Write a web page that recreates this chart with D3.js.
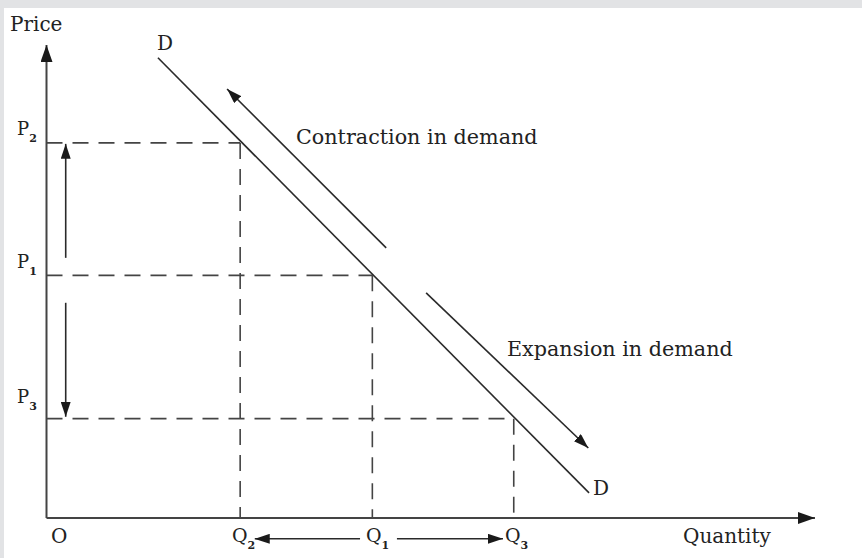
<!DOCTYPE html>
<html>
<head>
<meta charset="utf-8">
<script src="https://cdn.jsdelivr.net/npm/d3@7"></script>
<style>
	html, body { margin: 0; padding: 0; background: #e2e3e5; }
	#chart { position: absolute; left: 4px; top: 8px; background: #ffffff; }
	text { font-family: 'DejaVu Serif', 'Liberation Serif', serif; fill: #222; }
</style>
</head>
<body>
<svg id="chart" width="858" height="550"></svg>
<script>
'use strict'

// price and quantity levels (chart units, 0..100 on each axis)
var priceLabels = ['2', '1', '3'];
var priceValues = [79.3, 51.3, 21.0];
var quantityLabels = ['2', '1', '3'];
var quantityValues = [25.2, 42.4, 60.8];

// demand curve D-D
var demandQ = [14.5, 70.6];
var demandP = [97.3, 5.3];

// movement arrows along the curve [from, to]
var contractionQ = [44.2, 23.5];
var contractionP = [57.1, 90.7];
var expansionQ = [49.4, 70.5];
var expansionP = [47.6, 14.8];

// arrows next to the price axis and under the quantity axis
var priceArrowQ = 2.5;
var priceUpP = [55.0, 79.1];
var priceDownP = [45.5, 21.4];
var qtyArrowP = -4.4;
var qtyLeftQ = [40.8, 27.1];
var qtyRightQ = [45.6, 59.4];

var ox = -4, oy = -8; // page offset of the svg
var x = d3.scaleLinear().domain([0, 100]).range([46.5 + ox, 815 + ox]);
var y = d3.scaleLinear().domain([0, 100]).range([518 + oy, 45 + oy]);

var svg = d3.select('#chart');
var ink = '#2a2a2a';

var defs = svg.append('defs');
function marker(id, len, half){
	defs.append('marker')
		.attr('id', id)
		.attr('viewBox', '0 ' + (-half) + ' ' + len + ' ' + (2*half))
		.attr('refX', len)
		.attr('refY', 0)
		.attr('markerUnits', 'userSpaceOnUse')
		.attr('markerWidth', len)
		.attr('markerHeight', 2*half)
		.attr('orient', 'auto')
		.append('path')
		.attr('d', 'M0,' + (-half) + 'L' + len + ',0L0,' + half + 'Z')
		.attr('fill', '#1a1a1a');
}
marker('axisHead', 17, 6);
marker('head', 15, 5);

// dashed guide lines
for(var c = 0;c<priceValues.length;c++){
	svg.append('line')
		.attr('x1', x(0)).attr('x2', x(quantityValues[c]))
		.attr('y1', y(priceValues[c])).attr('y2', y(priceValues[c]))
		.attr('stroke', '#444').attr('stroke-width', 1.6)
		.attr('stroke-dasharray', '16,10');
	svg.append('line')
		.attr('x1', x(quantityValues[c])).attr('x2', x(quantityValues[c]))
		.attr('y1', y(priceValues[c])).attr('y2', y(0))
		.attr('stroke', '#444').attr('stroke-width', 1.6)
		.attr('stroke-dasharray', '16,10');
}

// axes
svg.append('line')
	.attr('x1', x(0)).attr('x2', x(0))
	.attr('y1', y(0)).attr('y2', y(100))
	.attr('stroke', '#444').attr('stroke-width', 2)
	.attr('marker-end', 'url(#axisHead)');
svg.append('line')
	.attr('x1', x(0)).attr('x2', x(100))
	.attr('y1', y(0)).attr('y2', y(0))
	.attr('stroke', '#444').attr('stroke-width', 2)
	.attr('marker-end', 'url(#axisHead)');

// demand curve
svg.append('line')
	.attr('x1', x(demandQ[0])).attr('x2', x(demandQ[1]))
	.attr('y1', y(demandP[0])).attr('y2', y(demandP[1]))
	.attr('stroke', ink).attr('stroke-width', 1.6);

function arrow(q, p){
	svg.append('line')
		.attr('x1', x(q[0])).attr('x2', x(q[1]))
		.attr('y1', y(p[0])).attr('y2', y(p[1]))
		.attr('stroke', ink).attr('stroke-width', 1.6)
		.attr('marker-end', 'url(#head)');
}
arrow(contractionQ, contractionP);
arrow(expansionQ, expansionP);
arrow([priceArrowQ, priceArrowQ], priceUpP);
arrow([priceArrowQ, priceArrowQ], priceDownP);
arrow(qtyLeftQ, [qtyArrowP, qtyArrowP]);
arrow(qtyRightQ, [qtyArrowP, qtyArrowP]);

// text
function label(tx, ty, s, size){
	return svg.append('text')
		.attr('x', tx + ox).attr('y', ty + oy)
		.attr('font-size', size)
		.text(s);
}
function subLabel(tx, ty, main, sub, size){
	var t = svg.append('text')
		.attr('x', tx + ox).attr('y', ty + oy)
		.attr('font-size', size);
	t.append('tspan').text(main);
	t.append('tspan').attr('font-size', 11).attr('font-weight', 'bold').attr('dy', 7).text(sub);
}

label(10, 30.5, 'Price', 20);
label(157, 50, 'D', 20);
label(593, 495, 'D', 20);
label(296, 144, 'Contraction in demand', 20.7);
label(507, 356, 'Expansion in demand', 20.7);
label(51, 543, 'O', 20);
label(683, 543, 'Quantity', 20);

var pBase = [135, 268, 403];
for(var c = 0;c<priceLabels.length;c++)
	subLabel(17, pBase[c], 'P', priceLabels[c], 18);
var qStart = [232, 366, 505];
for(var c = 0;c<quantityLabels.length;c++)
	subLabel(qStart[c], 542, 'Q', quantityLabels[c], 19);
</script>
</body>
</html>
